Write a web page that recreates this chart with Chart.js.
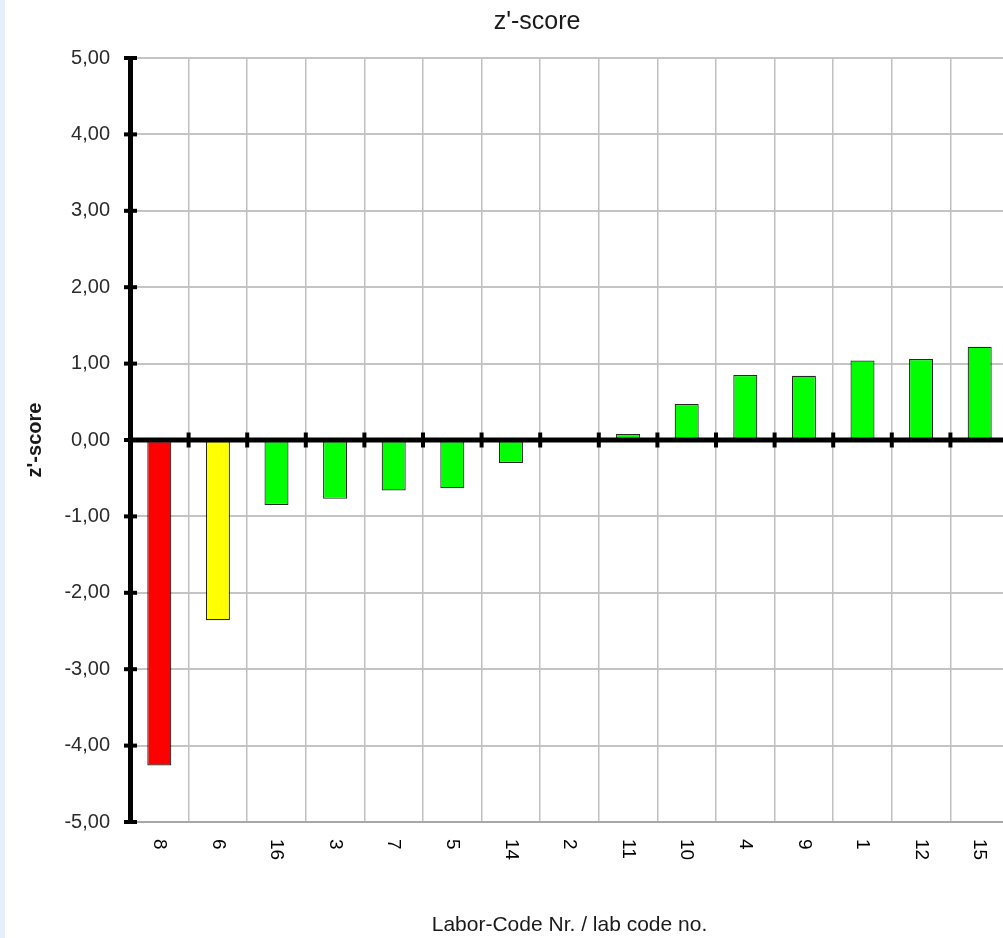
<!DOCTYPE html>
<html>
<head>
<meta charset="utf-8">
<title>z'-score</title>
<script src="https://cdn.jsdelivr.net/npm/chart.js@4"></script>
<style>
    html, body {
        margin: 0;
        padding: 0;
        overflow: hidden;
        background: #e6eefb;
    }
    #zscore-chart {
        position: absolute;
        left: 5px;
        top: 0;
        background: #ffffff;
    }
</style>
</head>
<body>
<canvas id="zscore-chart" width="1010" height="938"></canvas>
<script>
// z'-score per laboratorio (ordinati dal piu basso al piu alto)
const labCodes = ['8', '6', '16', '3', '7', '5', '14', '2', '11', '10', '4', '9', '1', '12', '15'];
const zScores = [-4.26, -2.36, -0.85, -0.77, -0.66, -0.63, -0.30, 0.00, 0.08, 0.47, 0.85, 0.84, 1.04, 1.06, 1.22];
const yTickValues = [-5, -4, -3, -2, -1, 0, 1, 2, 3, 4, 5];

const FONT = '"Liberation Sans", Arial, sans-serif';

// Colore in base al valore assoluto dello z-score
function barColor(z) {
    const a = Math.abs(z);
    if (a >= 3) return '#ff0000';
    if (a > 2) return '#ffff00';
    return '#00ff00';
}

function formatTick(value) {
    return value.toFixed(2).replace('.', ',');
}

/**
 * Titolo, etichette ruotate, linea dello zero e tacche sugli assi
 */
const decorPlugin = {
    id: 'decor',
    afterDatasetsDraw(chart) {
        const { ctx, chartArea, scales } = chart;
        const x = scales.x;
        const y = scales.y;
        const zeroY = y.getPixelForValue(0);

        ctx.save();
        ctx.strokeStyle = '#000000';

        // linea dello zero
        ctx.lineWidth = 5;
        ctx.beginPath();
        ctx.moveTo(chartArea.left, zeroY);
        ctx.lineTo(chartArea.right, zeroY);
        ctx.stroke();

        // tacche ai confini delle categorie
        ctx.lineWidth = 4;
        labCodes.forEach((_, i) => {
            const px = x.getPixelForValue(i + 0.5);
            ctx.beginPath();
            ctx.moveTo(px, zeroY - 7.5);
            ctx.lineTo(px, zeroY + 7.5);
            ctx.stroke();
        });

        // tacche asse y
        yTickValues.forEach(v => {
            const py = y.getPixelForValue(v);
            ctx.beginPath();
            ctx.moveTo(chartArea.left - 6, py);
            ctx.lineTo(chartArea.left + 7, py);
            ctx.stroke();
        });

        // etichette asse x ruotate in senso orario
        ctx.fillStyle = '#000000';
        ctx.font = '19px ' + FONT;
        ctx.textAlign = 'left';
        ctx.textBaseline = 'middle';
        labCodes.forEach((label, i) => {
            const px = x.getPixelForValue(i);
            ctx.save();
            ctx.translate(px, chartArea.bottom + 17);
            ctx.rotate(Math.PI / 2);
            ctx.fillText(label, 0, 0);
            ctx.restore();
        });

        // titolo
        ctx.fillStyle = '#1a1a1a';
        ctx.font = '25px ' + FONT;
        ctx.textAlign = 'center';
        ctx.textBaseline = 'middle';
        ctx.fillText("z'-score", 532, 22);
        ctx.restore();
    }
};

const ctx = document.getElementById('zscore-chart');

const zscoreChart = new Chart(ctx, {
    type: 'bar',
    data: {
        labels: labCodes,
        datasets: [{
            label: "z'-score",
            data: zScores,
            backgroundColor: zScores.map(barColor),
            borderColor: 'rgba(0, 0, 0, 0.85)',
            borderWidth: 1.2,
            borderSkipped: false,
            barPercentage: 0.41,
            categoryPercentage: 1.0
        }]
    },
    options: {
        responsive: false,
        animation: false,
        layout: {
            padding: { top: 58, right: 6, bottom: 0, left: 0 }
        },
        plugins: {
            legend: { display: false },
            title: { display: false },
            tooltip: { enabled: false }
        },
        scales: {
            y: {
                min: -5,
                max: 5,
                afterFit(scale) { scale.width = 125; },
                afterBuildTicks(scale) {
                    scale.ticks = yTickValues.slice().reverse().map(v => ({ value: v }));
                },
                border: { color: '#000000', width: 5 },
                grid: {
                    color: '#c4c4c4',
                    lineWidth: 2,
                    drawTicks: false
                },
                ticks: {
                    padding: 20,
                    color: '#2b2b2b',
                    font: { size: 20, family: FONT },
                    callback: value => formatTick(value)
                },
                title: {
                    display: true,
                    text: "z'-score",
                    color: '#1a1a1a',
                    font: { size: 20, weight: 'bold', family: FONT },
                    padding: { top: 18, bottom: 0 }
                }
            },
            x: {
                afterFit(scale) { scale.height = 116; },
                border: { color: '#a8a8a8', width: 2 },
                grid: {
                    color: '#c0c0c0',
                    lineWidth: 1.5,
                    drawTicks: false
                },
                ticks: { display: false },
                title: {
                    display: true,
                    text: 'Labor-Code Nr. / lab code no.',
                    color: '#1a1a1a',
                    font: { size: 21, family: FONT },
                    padding: { top: 0, bottom: 0 }
                }
            }
        }
    },
    plugins: [decorPlugin]
});
</script>
</body>
</html>
